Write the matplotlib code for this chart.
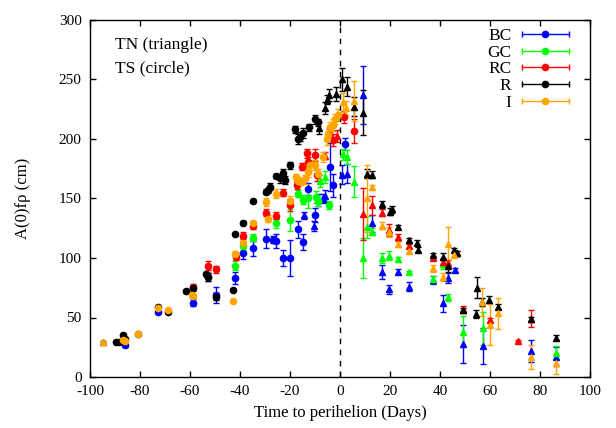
import numpy as np
import matplotlib
matplotlib.use("Agg")
import matplotlib.pyplot as plt
from matplotlib.lines import Line2D
from matplotlib.legend_handler import HandlerTuple, HandlerLine2D

plt.rcParams['font.family'] = ['Liberation Serif', 'DejaVu Serif']
plt.rcParams['axes.unicode_minus'] = False

# ---- BC ----
bc_ts_x = [-86, -72.7, -58.7, -52.7, -49.6, -42, -38.7, -34.7, -29.6, -26.7, -25.7,
           -22.7, -20, -16.7, -15, -12.7, -10, -4, -2.7, 2]
bc_ts_y = [27, 55, 62.5, 84, 69, 83.5, 104, 108, 116, 115.5, 114.5,
           100, 100, 124, 113.5, 158, 136, 176.7, 161, 196]
bc_ts_e = [2, 2, 3, 3, 7, 5, 5, 6, 8, 3, 6,
           7, 15, 7, 7, 5, 6, 20, 10, 5]
bc_tn_x = [-14.4, -10.5, -8.7, -7, -6, 0.7, 2.9, 9, 12.7, 16.7, 19.7, 23, 27.7,
           37, 41, 43, 46, 49, 57, 76.3, 86.4]
bc_tn_y = [136, 127, 148.7, 150, 152, 170, 171, 237, 129, 88.5, 73.7, 88.5, 76,
           81.5, 62, 83, 90, 28, 26, 22, 17]
bc_tn_e = [3, 4, 5, 4, 5, 8, 8, 24, 7, 6, 4, 2, 4,
           3, 7, 4, 2, 16, 15, 9, 8]

# ---- GC ----
gc_ts_x = [-42, -38.7, -34.7, -25.7, -20, -17, -15, -13, -9.6, -9, -4.3]
gc_ts_y = [93.5, 110, 117, 129, 132, 154, 149, 150, 151, 148, 144.5]
gc_ts_e = [4, 3, 3, 4, 9, 3, 4, 8, 5, 4, 3]
gc_tn_x = [-8, -6, 1, 2.9, 5.6, 9, 10.7, 12.7, 16.7, 19.7, 23, 27.7,
           37, 41, 43, 49, 57, 86.4]
gc_tn_y = [165, 168, 187, 185, 164, 100, 126, 122, 100, 102, 99, 88,
           82, 95, 67, 38, 41, 20]
gc_tn_e = [5, 5, 5, 6, 13, 17, 9, 3, 4, 4, 2, 1,
           3, 4, 3, 13, 14, 6]

# ---- RC ----
rc_ts_x = [-58.7, -52.7, -49.6, -41.6, -38.7, -34.7, -29.6, -25.7, -22.7, -20,
           -17.3, -15.3, -13.3, -12.7, -10, -9.3, -4.3, -2.7, 1.7, 5.7]
rc_ts_y = [76, 93.5, 90.5, 101, 118.7, 127, 138, 135.5, 155, 144.5,
           161, 176.7, 188, 181, 186.5, 170, 203, 199, 218.7, 207]
rc_ts_e = [2, 4, 3, 3, 3, 3, 3, 3, 3, 5,
           3, 3, 4, 4, 5, 5, 5, 5, 5, 10]
rc_tn_x = [-6, -1.3, 9, 12.7, 16.7, 19.7, 23, 27.7, 37, 41, 43, 46.7,
           49, 60, 71, 76.3]
rc_tn_y = [186, 202.5, 137, 144.5, 138, 123.5, 117.5, 110, 100, 97, 95.5, 104,
           57, 48, 30, 49]
rc_tn_e = [3, 5, 22, 8, 3, 5, 3, 2, 2, 3, 3, 2,
           3, 2, 1, 7]

# ---- R ----
r_ts_x = [-89.5, -88.5, -86.7, -86, -80.7, -72.7, -68.7, -61.6, -58.7, -53.6,
          -52.7, -49.6, -42.7, -42, -38.7, -35, -29.6, -28.7, -28, -25.7,
          -24, -22.7, -22, -20, -18, -16.7, -16, -15, -12.3, -10, -9]
r_ts_y = [29.7, 29.7, 35, 32, 36, 59, 55, 72, 74.5, 86.6,
          84, 67.5, 73, 120, 129.7, 148, 155.7, 157, 160, 169,
          167, 171.7, 165.5, 178, 208, 200, 202, 205, 210, 216.5, 214]
r_ts_e = [1, 1, 1, 1, 1, 1, 1, 1, 2, 2,
          3, 3, 1, 1, 1, 1, 2, 2, 3, 2,
          4, 3, 3, 3, 3, 4, 4, 4, 3, 4, 3]
r_tn_x = [-95, -8.3, -6, -5.3, -4.3, -1.6, 0.7, 2.7, 5.6, 9, 10.7, 12.7,
          16.7, 20, 20.7, 23, 27.7, 30.7, 31, 37, 41, 43, 45.7, 46.7,
          49, 54.7, 54.4, 56.7, 59.7, 63, 76.3, 86.4]
r_tn_y = [29, 209.5, 226, 233, 237, 238, 250, 244, 227, 222, 171, 170,
          145, 139, 141, 126, 115, 113, 107, 102.5, 101, 93, 106.7, 104,
          56, 75, 53, 63, 65, 59, 48.5, 33]
r_tn_e = [1, 5, 5, 4, 5, 6, 10, 8, 8, 19, 4, 3,
          3, 3, 3, 2, 2, 2, 2, 2, 3, 5, 2, 2,
          2, 9, 3, 3, 3, 2, 2, 2]

# ---- I ----
i_ts_x = [-86.7, -86, -80.7, -72.7, -68.7, -59.3, -58.7, -42.7, -42, -38.7,
          -34.7, -29.6, -29, -25.7, -20, -17.6, -16.7, -15.5, -14, -12.7,
          -12, -10, -9, -7, -5.3, -4.7, -4, -3, -2, -0.7]
i_ts_y = [31, 30, 36, 58, 56, 69, 68, 64, 103.5, 112.5,
          129, 147, 133, 154, 148, 168, 165, 164, 166, 172,
          178, 178, 171, 185, 200, 203, 210, 212, 217, 220]
i_ts_e = [1, 1, 1, 2, 1, 2, 2, 1, 2, 2,
          2, 3, 3, 4, 4, 3, 3, 3, 4, 4,
          4, 4, 4, 4, 5, 4, 4, 5, 4, 5]
i_tn_x = [-95, 1.3, 2.5, 5.6, 10.7, 12.7, 16.7, 19.7, 23, 27.7, 37, 41,
          43, 45.7, 56.7, 60, 63, 76.3, 86.4]
i_tn_y = [29.5, 231, 226, 232, 150, 159.5, 127, 122, 112, 106, 91.5, 84,
          112, 102.5, 63, 44, 53.5, 17, 11.5]
i_tn_e = [1, 8, 6, 17, 28, 2, 3, 4, 3, 2, 3, 3,
          14, 2, 12, 17, 13, 10, 9]

labels = ['BC', 'GC', 'RC', 'R', 'I']
colors = ['#0000ff', '#00ff00', '#ff0000', '#000000', '#ffa500']
series = [
    (bc_ts_x, bc_ts_y, bc_ts_e, bc_tn_x, bc_tn_y, bc_tn_e),
    (gc_ts_x, gc_ts_y, gc_ts_e, gc_tn_x, gc_tn_y, gc_tn_e),
    (rc_ts_x, rc_ts_y, rc_ts_e, rc_tn_x, rc_tn_y, rc_tn_e),
    (r_ts_x, r_ts_y, r_ts_e, r_tn_x, r_tn_y, r_tn_e),
    (i_ts_x, i_ts_y, i_ts_e, i_tn_x, i_tn_y, i_tn_e),
]

fig = plt.figure(figsize=(6.16, 4.28), dpi=100)
ax = fig.add_axes([90/616, 1-377/428, 500/616, 357/428])

ekw = dict(linestyle='none', elinewidth=1, capsize=2.2, capthick=1, markersize=4.5)
handles = []
dots = []
for (tsx, tsy, tse, tnx, tny, tne), c, lab in zip(series, colors, labels):
    ax.errorbar(tsx, tsy, yerr=tse, fmt='o', color=c, ecolor=c, **ekw)
    ax.errorbar(tnx, tny, yerr=tne, fmt='^', color=c, ecolor=c, **ekw)
    # legend sample: horizontal bar with end caps and a dot in the middle
    bar = Line2D([], [], color=c, lw=1, marker='|', markersize=5, markeredgewidth=1)
    dot = Line2D([], [], color=c, lw=0, marker='o', markersize=4.5)
    dots.append(dot)
    handles.append((bar, dot))

ax.axvline(0, color='black', lw=1, ls=(0, (4, 4)))

ax.set_xlim(-100, 100)
ax.set_ylim(0, 300)
ax.set_xticks(np.arange(-100, 101, 20))
ax.set_yticks(np.arange(0, 301, 50))
ax.tick_params(direction='in', top=True, right=True, length=4, width=1,
               labelsize=11, pad=6)
for s in ax.spines.values():
    s.set_linewidth(1)

ax.set_xlabel('Time to perihelion (Days)', fontsize=12, labelpad=5)
ax.set_ylabel('A(0)fρ (cm)', fontsize=12, labelpad=20)

ax.text(0.05, 0.93, 'TN (triangle)', transform=ax.transAxes, fontsize=12.5, va='center')
ax.text(0.05, 0.865, 'TS (circle)', transform=ax.transAxes, fontsize=12.5, va='center')

hmap = {tuple: HandlerTuple(ndivide=1, pad=0)}
for d in dots:
    hmap[d] = HandlerLine2D(numpoints=1)
leg = ax.legend(handles, labels, handler_map=hmap, numpoints=2, markerfirst=False,
                frameon=False, loc='upper right', bbox_to_anchor=(0.968, 0.978),
                borderpad=0, borderaxespad=0, handlelength=3.3, handletextpad=0.3,
                labelspacing=0.03, fontsize=12.5)

fig.savefig('out.png', dpi=100)
